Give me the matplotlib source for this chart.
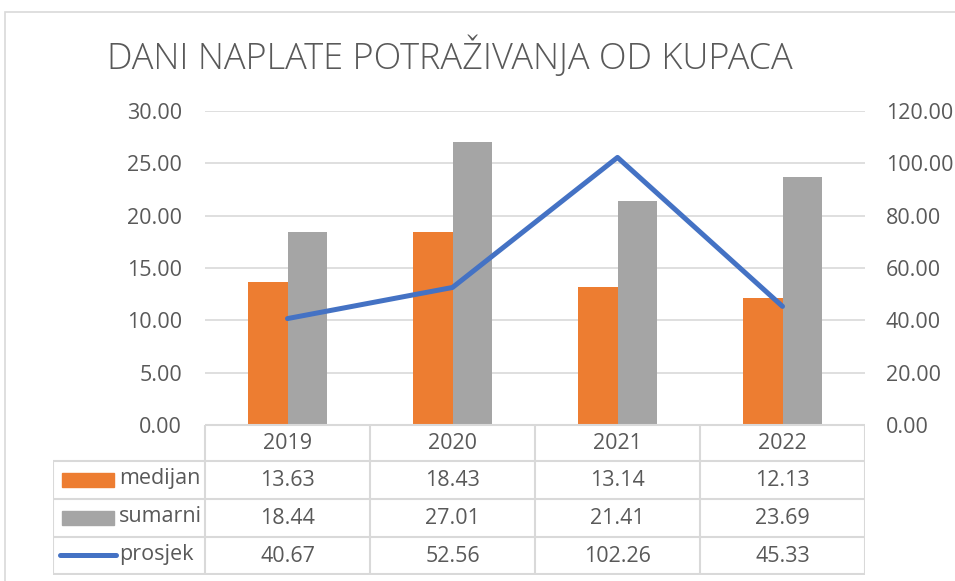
import matplotlib.pyplot as plt
from matplotlib.patches import Rectangle
import numpy as np

# data
years = ['2019', '2020', '2021', '2022']
medijan = [13.63, 18.43, 13.14, 12.13]
sumarni = [18.44, 27.01, 21.41, 23.69]
prosjek = [40.67, 52.56, 102.26, 45.33]
series_names = ['medijan', 'sumarni', 'prosjek']

orange = '#ED7D31'
grey = '#A5A5A5'
blue = '#4472C4'
txt = '#595959'
grid = '#D9D9D9'
fs = 15.5

W, H = 955, 581
fig = plt.figure(figsize=(W/100, H/100), dpi=100)
plt.rcParams['font.family'] = ['Open Sans', 'DejaVu Sans']

def px(x0, y0, x1, y1):
    return [x0/W, 1-y1/H, (x1-x0)/W, (y1-y0)/H]

# chart border
fig.patches.append(Rectangle((5/W, -0.1), 1.2, 1-12/H+0.1, transform=fig.transFigure,
                             fill=False, edgecolor=grid, lw=1.2))

fig.text(450/W, 1-57/H, 'DANI NAPLATE POTRAŽIVANJA OD KUPACA', ha='center', va='center',
         fontsize=26, color=txt, fontweight='light')

# plot area
ax = fig.add_axes(px(205, 111, 865, 425))
x = np.arange(len(years))
bw = 0.24
ax.bar(x-bw/2, medijan, bw, color=orange, zorder=2)
ax.bar(x+bw/2, sumarni, bw, color=grey, zorder=2)
ax.set_xlim(-0.5, 3.5)
ax.set_ylim(0, 30)
ax.set_yticks(np.arange(0, 31, 5))
ax.set_yticklabels([f'{v:.2f}' for v in np.arange(0, 31, 5)])
ax.grid(axis='y', color=grid, lw=1.2, zorder=0)
ax.set_xticks([])
for s in ax.spines.values():
    s.set_visible(False)
ax.tick_params(axis='y', length=0, labelsize=fs, labelcolor=txt, pad=16.5)

ax2 = ax.twinx()
ax2.plot(x, prosjek, color=blue, lw=3.6, solid_capstyle='round', zorder=3)
ax2.set_ylim(0, 120)
ax2.set_yticks(np.arange(0, 121, 20))
ax2.set_yticklabels([f'{v:.2f}' for v in np.arange(0, 121, 20)])
for s in ax2.spines.values():
    s.set_visible(False)
ax2.tick_params(axis='y', length=0, labelsize=fs, labelcolor=txt, pad=15)

# data table
tx = fig.add_axes(px(53, 423, 865, 575))
lc = 152/165
tx.set_xlim(-0.5-lc, 3.5)
tx.set_ylim(4, 0)
tx.axis('off')
lk = dict(color=grid, lw=1.5, solid_capstyle='butt')
tx.plot([-0.5, 3.5], [0.05, 0.05], **lk)
for r in [1, 2, 3, 3.97]:
    tx.plot([-0.5-lc, 3.5], [r, r], **lk)
for c in np.arange(-0.5, 3.6, 1):
    tx.plot([c, c], [0.05, 3.97], **lk)
tx.plot([-0.5-lc, -0.5-lc], [1, 3.97], **lk)

for i, yr in enumerate(years):
    tx.text(i, 0.55, yr, ha='center', va='center', fontsize=fs, color=txt)
for r, vals in enumerate([medijan, sumarni, prosjek], start=1):
    for i, v in enumerate(vals):
        tx.text(i, r+0.5, f'{v:.2f}', ha='center', va='center', fontsize=fs, color=txt)

kx0 = -0.5-lc + 9/165
kx1 = kx0 + 52/165
tx.add_patch(Rectangle((kx0, 1.31), kx1-kx0, 0.37, color=orange))
tx.add_patch(Rectangle((kx0, 2.31), kx1-kx0, 0.37, color=grey))
tx.plot([kx0-2/165, kx1+2/165], [3.47, 3.47], color=blue, lw=3.6, solid_capstyle='round')
for r, name in enumerate(series_names, start=1):
    tx.text(kx1+5/165, r+0.47, name, ha='left', va='center', fontsize=fs, color=txt)

fig.savefig('out.png', dpi=100)
